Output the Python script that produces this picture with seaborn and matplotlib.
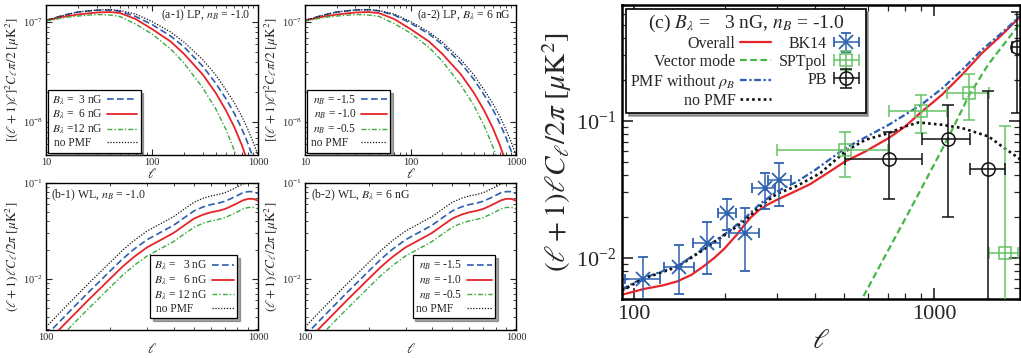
import matplotlib
matplotlib.use("Agg")
import matplotlib.pyplot as plt
import seaborn as sns
from matplotlib.ticker import NullFormatter, FuncFormatter, FixedLocator
from matplotlib.legend_handler import HandlerErrorbar
from matplotlib.container import ErrorbarContainer

# ---------------------------------------------------------------- data
# lensing-potential spectra [(l+1)l]^2 C_l pi/2
ell_lp = [10, 15, 20, 30, 40, 50, 70, 100, 150, 200, 300, 400, 500, 600, 700, 800, 900, 1000]
lp_nopmf = [1.035e-7, 1.175e-7, 1.259e-7, 1.318e-7, 1.330e-7, 1.303e-7, 1.202e-7, 1.012e-7, 7.94e-8,
            6.31e-8, 4.22e-8, 2.95e-8, 2.09e-8, 1.55e-8, 1.15e-8, 8.51e-9, 6.31e-9, 4.68e-9]
lp_B3 = [1.040e-7, 1.175e-7, 1.259e-7, 1.312e-7, 1.318e-7, 1.282e-7, 1.135e-7, 9.44e-8, 7.24e-8,
         5.66e-8, 3.63e-8, 2.44e-8, 1.70e-8, 1.21e-8, 8.65e-9, 6.17e-9, 4.37e-9, 3.16e-9]
lp_B6 = [1.035e-7, 1.135e-7, 1.189e-7, 1.245e-7, 1.259e-7, 1.230e-7, 1.072e-7, 8.51e-8, 6.38e-8,
         4.81e-8, 3.00e-8, 1.95e-8, 1.30e-8, 8.81e-9, 5.96e-9, 3.98e-9, 2.75e-9, 1.90e-9]
lp_B12 = [1.023e-7, 1.109e-7, 1.148e-7, 1.189e-7, 1.175e-7, 1.135e-7, 9.55e-8, 7.59e-8, 5.37e-8,
          3.89e-8, 2.21e-8, 1.35e-8, 8.36e-9, 5.13e-9, 3.16e-9, 2.00e-9, 1.26e-9, 7.9e-10]
lp_nBm15 = [1.040e-7, 1.175e-7, 1.259e-7, 1.321e-7, 1.327e-7, 1.294e-7, 1.175e-7, 9.77e-8, 7.59e-8,
            5.96e-8, 3.89e-8, 2.66e-8, 1.86e-8, 1.35e-8, 9.77e-9, 7.08e-9, 5.13e-9, 3.63e-9]
lp_nBm10 = lp_B6
lp_nBm05 = [1.023e-7, 1.109e-7, 1.148e-7, 1.189e-7, 1.175e-7, 1.140e-7, 9.66e-8, 7.76e-8, 5.56e-8,
            4.07e-8, 2.34e-8, 1.46e-8, 9.12e-9, 5.75e-9, 3.63e-9, 2.29e-9, 1.45e-9, 9.1e-10]

# lensed B-mode spectra (l+1)l C_l / 2pi
ell_wl = [100, 120, 140, 160, 180, 200, 230, 260, 300, 350, 400, 450, 500, 550, 600, 650, 700,
          750, 800, 850, 900, 950, 1000]
wl_nopmf = [3.16e-3, 4.79e-3, 6.76e-3, 9.12e-3, 1.175e-2, 1.479e-2, 1.995e-2, 2.512e-2, 3.162e-2,
            3.80e-2, 4.47e-2, 5.37e-2, 6.31e-2, 6.92e-2, 7.33e-2, 7.59e-2, 7.94e-2, 8.51e-2,
            9.12e-2, 9.77e-2, 1.012e-1, 1.023e-1, 9.89e-2]
wl_B3 = [2.57e-3, 3.89e-3, 5.50e-3, 7.41e-3, 9.55e-3, 1.202e-2, 1.622e-2, 2.042e-2, 2.570e-2,
         3.090e-2, 3.631e-2, 4.365e-2, 5.129e-2, 5.623e-2, 5.957e-2, 6.166e-2, 6.457e-2, 6.918e-2,
         7.413e-2, 7.943e-2, 8.128e-2, 8.128e-2, 7.762e-2]
wl_B6 = [2.14e-3, 3.24e-3, 4.57e-3, 6.17e-3, 7.94e-3, 1.000e-2, 1.349e-2, 1.698e-2, 2.138e-2,
         2.570e-2, 3.020e-2, 3.631e-2, 4.266e-2, 4.677e-2, 4.955e-2, 5.129e-2, 5.370e-2, 5.754e-2,
         6.166e-2, 6.607e-2, 6.839e-2, 6.839e-2, 6.531e-2]
wl_B12 = [1.74e-3, 2.63e-3, 3.72e-3, 5.01e-3, 6.46e-3, 8.13e-3, 1.096e-2, 1.380e-2, 1.738e-2,
          2.089e-2, 2.455e-2, 2.951e-2, 3.467e-2, 3.802e-2, 4.027e-2, 4.169e-2, 4.365e-2, 4.677e-2,
          5.012e-2, 5.370e-2, 5.559e-2, 5.559e-2, 5.370e-2]
wl_nBm15 = wl_B3
wl_nBm10 = wl_B6
wl_nBm05 = wl_B12

# panel (c): B_lambda = 3 nG, n_B = -1.0
ell_overall = [91, 107, 125, 139, 155, 170, 185, 200, 220, 232, 244, 260, 277, 299, 340, 386, 440,
               505, 589, 705, 800, 910, 1061, 1237, 1442, 1682, 1911, 1930]
cl_overall = [0.00537, 0.0059, 0.0063, 0.00672, 0.0075, 0.00865, 0.0100, 0.0117, 0.0148, 0.0172,
              0.0196, 0.0222, 0.0243, 0.0265, 0.0302, 0.0345, 0.0415, 0.0505, 0.0597, 0.0748,
              0.091, 0.117, 0.155, 0.217, 0.312, 0.425, 0.562, 0.58]
ell_vector = [560, 574, 865, 1111, 1309, 1517, 1682, 1911, 1930]
cl_vector = [0.0045, 0.005, 0.0265, 0.0748, 0.155, 0.26, 0.348, 0.50, 0.52]
ell_norho = [91, 107, 139, 170, 204, 232, 263, 299, 349, 401, 505, 705, 905, 1061, 1237, 1442,
             1682, 1930]
cl_norho = [0.0059, 0.0071, 0.0087, 0.0116, 0.0153, 0.0192, 0.0248, 0.0305, 0.0360, 0.0438,
            0.0632, 0.0935, 0.131, 0.172, 0.235, 0.33, 0.44, 0.58]
ell_nopmf = [91, 107, 139, 170, 204, 232, 263, 299, 349, 417, 505, 589, 705, 800, 887, 1061, 1237,
             1517, 1682, 1911, 1930]
cl_nopmf = [0.00577, 0.00703, 0.00857, 0.01143, 0.0151, 0.0184, 0.0238, 0.0293, 0.0335, 0.0415,
            0.0597, 0.0726, 0.0813, 0.091, 0.0972, 0.0935, 0.0885, 0.0768, 0.0649, 0.0534, 0.052]

# band powers
bk14_ell = [106.6, 140.5, 174.5, 203.7, 233.4, 271.8, 304.3]
bk14_val = [0.0070, 0.0086, 0.0128, 0.0212, 0.0151, 0.0323, 0.0371]
bk14_ell_lo = [93.3, 125.3, 156.8, 189.5, 207.0, 246.5, 278.0]
bk14_ell_hi = [121.4, 157.7, 193.6, 218.8, 261.0, 293.5, 333.0]
bk14_val_lo = [0.0040, 0.00546, 0.00764, 0.0160, 0.00794, 0.0227, 0.0240]
bk14_val_hi = [0.01005, 0.01245, 0.0181, 0.0268, 0.0231, 0.0415, 0.0491]

spt_ell = [502, 905, 1309, 1715]
spt_val = [0.0607, 0.117, 0.159, 0.0108]
spt_ell_lo = [299, 705, 1100, 1516]
spt_ell_hi = [700, 1101, 1516, 1900]
spt_val_lo = [0.0388, 0.0813, 0.1005, 0.001]
spt_val_hi = [0.0822, 0.155, 0.220, 0.092]

pb_ell = [708, 1111, 1510, 1888]
pb_val = [0.0528, 0.0735, 0.0447, 0.348]
pb_ell_lo = [505, 910, 1316, 1817]
pb_ell_hi = [910, 1316, 1720, 2100]
pb_val_lo = [0.027, 0.0198, 0.001, 0.114]
pb_val_hi = [0.0822, 0.131, 0.164, 0.618]

# ---------------------------------------------------------------- style
sns.set_style("ticks")
plt.rcParams.update({
    "font.family": ["Liberation Serif", "DejaVu Serif"],
    "mathtext.fontset": "stix",
    "axes.linewidth": 1.0,
    "axes.edgecolor": "black",
    "legend.fancybox": False,
    "legend.edgecolor": "black",
    "legend.framealpha": 1.0,
})

RED = "#e62429"
BLUE = "#2d5fae"
GREEN = "#3daa3d"
BLACK = "#111111"
LS_DASH = (0, (4, 2))
LS_DASHDOT = (0, (3.5, 1.5, 1, 1.5))
LS_DOT = (0, (1, 1.3))

W, H = 1021, 358


def rect(l, r, t, b):
    return [l / W, 1 - b / H, (r - l) / W, (b - t) / H]


def line(ax, x, y, color, ls, lw):
    sns.lineplot(x=x, y=y, ax=ax, color=color, linestyle=ls, linewidth=lw,
                 estimator=None, errorbar=None, sort=False, legend=False)
    return ax.lines[-1]


def style_small(ax, xlim, ylim, ylabel):
    ax.set_xscale("log")
    ax.set_yscale("log")
    ax.set_xlim(*xlim)
    ax.set_ylim(*ylim)
    ax.xaxis.set_major_formatter(FuncFormatter(lambda v, p: f"{v:g}"))
    ax.xaxis.set_minor_formatter(NullFormatter())
    ax.yaxis.set_minor_formatter(NullFormatter())
    ax.tick_params(which="both", direction="in", top=True, right=True, labelsize=7.5, pad=2)
    ax.tick_params(which="major", length=4, width=0.8)
    ax.tick_params(which="minor", length=2, width=0.6)
    ax.set_xlabel(r"$\ell$", fontsize=10, labelpad=0)
    ax.set_ylabel(ylabel, fontsize=9.5, labelpad=1)
    for s in ax.spines.values():
        s.set_linewidth(1.0)


def small_legend(ax, handles, labels, hlen, **kw):
    leg = ax.legend(handles, labels, markerfirst=False, shadow=True, fontsize=8.3,
                    handlelength=hlen, labelspacing=0.1, borderpad=0.3,
                    handletextpad=0.4, frameon=True, **kw)
    leg.get_frame().set_linewidth(0.9)
    return leg


fig = plt.figure(figsize=(W / 100, H / 100), dpi=100)

ylab_lp = r"$[(\ell+1)\ell]^2C_\ell\pi/2\ [\mu{\rm K}^2]$"
ylab_wl = r"$(\ell+1)\ell C_\ell/2\pi\ [\mu{\rm K}^2]$"

# (a-1)
ax = fig.add_axes(rect(46, 258, 5, 155))
style_small(ax, (10, 1000), (4.68e-9, 1.48e-7), ylab_lp)
h = [line(ax, ell_lp, lp_B3, BLUE, LS_DASH, 1.2),
     line(ax, ell_lp, lp_B6, RED, "-", 1.3),
     line(ax, ell_lp, lp_B12, GREEN, LS_DASHDOT, 1.0),
     line(ax, ell_lp, lp_nopmf, BLACK, LS_DOT, 0.9)]
small_legend(ax, h, [r"$B_\lambda$ =  3 nG", r"$B_\lambda$ =  6 nG", r"$B_\lambda$ =12 nG", "no PMF    "],
             2.6, loc="lower left", borderaxespad=0.2)
ax.text(0.965, 0.93, r"(a-1) LP, $n_B$ = -1.0", transform=ax.transAxes, ha="right", va="center", fontsize=8.5)

# (a-2)
ax = fig.add_axes(rect(305, 516, 5, 155))
style_small(ax, (10, 1000), (4.68e-9, 1.48e-7), ylab_lp)
h = [line(ax, ell_lp, lp_nBm15, BLUE, LS_DASH, 1.2),
     line(ax, ell_lp, lp_nBm10, RED, "-", 1.3),
     line(ax, ell_lp, lp_nBm05, GREEN, LS_DASHDOT, 1.0),
     line(ax, ell_lp, lp_nopmf, BLACK, LS_DOT, 0.9)]
small_legend(ax, h, [r"$n_B$ = -1.5", r"$n_B$ = -1.0", r"$n_B$ = -0.5", "no PMF   "],
             2.2, loc="lower left", borderaxespad=0.2)
ax.text(0.975, 0.93, r"(a-2) LP, $B_\lambda$ = 6 nG", transform=ax.transAxes, ha="right", va="center", fontsize=8.5)

# (b-1)
ax = fig.add_axes(rect(46, 258, 183, 330))
style_small(ax, (100, 1000), (2.94e-3, 0.1), ylab_wl)
h = [line(ax, ell_wl, wl_B3, BLUE, LS_DASH, 1.2),
     line(ax, ell_wl, wl_B6, RED, "-", 1.3),
     line(ax, ell_wl, wl_B12, GREEN, LS_DASHDOT, 1.0),
     line(ax, ell_wl, wl_nopmf, BLACK, LS_DOT, 0.9)]
small_legend(ax, h, [r"$B_\lambda$ =   3 nG", r"$B_\lambda$ =   6 nG", r"$B_\lambda$ = 12 nG", "no PMF     "],
             1.9, loc="lower right", bbox_to_anchor=(0.93, 0.04))
ax.text(0.025, 0.915, r"(b-1) WL, $n_B$ = -1.0", transform=ax.transAxes, ha="left", va="center", fontsize=8.5)

# (b-2)
ax = fig.add_axes(rect(305, 516, 183, 330))
style_small(ax, (100, 1000), (2.94e-3, 0.1), ylab_wl)
h = [line(ax, ell_wl, wl_nBm15, BLUE, LS_DASH, 1.2),
     line(ax, ell_wl, wl_nBm10, RED, "-", 1.3),
     line(ax, ell_wl, wl_nBm05, GREEN, LS_DASHDOT, 1.0),
     line(ax, ell_wl, wl_nopmf, BLACK, LS_DOT, 0.9)]
small_legend(ax, h, [r"$n_B$ = -1.5", r"$n_B$ = -1.0", r"$n_B$ = -0.5", "no PMF   "],
             2.2, loc="lower right", bbox_to_anchor=(0.93, 0.04))
ax.text(0.03, 0.915, r"(b-2) WL, $B_\lambda$ = 6 nG", transform=ax.transAxes, ha="left", va="center", fontsize=8.5)

# (c)
axc = fig.add_axes(rect(622, 1020, 5, 299))
axc.set_xscale("log")
axc.set_yscale("log")
axc.set_xlim(91, 1930)
axc.set_ylim(0.005, 0.70)

C_RED = "#e5252a"
C_GREEN = "#44b744"
C_BLUE = "#2a5db0"
hc = [line(axc, ell_overall, cl_overall, C_RED, "-", 1.6),
      line(axc, ell_vector, cl_vector, C_GREEN, (0, (3, 1.6)), 1.6),
      line(axc, ell_norho, cl_norho, C_BLUE, (0, (3, 1.2, 1, 1.2)), 1.6),
      line(axc, ell_nopmf, cl_nopmf, BLACK, (0, (1, 1.2)), 1.9)]


def band(ax, x, y, xlo, xhi, ylo, yhi, color, marker, ms, capsize, mew):
    xerr = [[a - b for a, b in zip(x, xlo)], [b - a for a, b in zip(x, xhi)]]
    yerr = [[a - b for a, b in zip(y, ylo)], [b - a for a, b in zip(y, yhi)]]
    return ax.errorbar(x, y, xerr=xerr, yerr=yerr, fmt=marker, color=color, ms=ms, mfc="none",
                       mec=color, mew=mew, elinewidth=1.1, capsize=capsize, capthick=1.1, zorder=4)


e_bk = band(axc, bk14_ell, bk14_val, bk14_ell_lo, bk14_ell_hi, bk14_val_lo, bk14_val_hi,
            "#2f62b0", "x", 9.5, 3.6, 1.3)
sns.scatterplot(x=bk14_ell, y=bk14_val, ax=axc, color="#2f62b0", s=12, linewidth=0, zorder=5, legend=False)
e_spt = band(axc, spt_ell, spt_val, spt_ell_lo, spt_ell_hi, spt_val_lo, spt_val_hi,
             "#66c266", "s", 8.5, 4.0, 1.1)
e_pb = band(axc, pb_ell, pb_val, pb_ell_lo, pb_ell_hi, pb_val_lo, pb_val_hi,
            "#111111", "o", 9.5, 4.3, 1.1)

axc.xaxis.set_major_locator(FixedLocator([100, 1000]))
axc.xaxis.set_major_formatter(FuncFormatter(lambda v, p: f"{v:g}"))
axc.xaxis.set_minor_formatter(NullFormatter())
axc.yaxis.set_minor_formatter(NullFormatter())
axc.tick_params(which="both", direction="in", top=True, right=True, labelsize=16, pad=4)
axc.tick_params(which="major", length=8, width=1.2)
axc.tick_params(which="minor", length=4, width=0.9)
for s in axc.spines.values():
    s.set_linewidth(1.8)
axc.set_xlabel(r"$\ell$", fontsize=20, labelpad=4)
axc.set_ylabel(r"$(\ell+1)\ell C_\ell/2\pi\ [\mu{\rm K}^2]$", fontsize=21, labelpad=2)

leg = axc.legend(hc + [e_bk, e_spt, e_pb],
                 ["Overall", "Vector mode", r"PMF without $\rho_B$", "no PMF", "BK14", "SPTpol", "PB"],
                 ncols=2, loc="upper left", bbox_to_anchor=(0.0, 1.0), markerfirst=False,
                 title=r"(c) $B_\lambda$ =   3 nG, $n_B$ = -1.0", title_fontsize=14, fontsize=11.5,
                 shadow=True, handlelength=1.9, labelspacing=0.12, columnspacing=0.5,
                 handletextpad=0.3, borderpad=0.25, borderaxespad=0.25, frameon=True,
                 handler_map={ErrorbarContainer: HandlerErrorbar(xerr_size=0.8, yerr_size=0.6)})
leg.get_frame().set_linewidth(1.2)
leg.set_zorder(10)

fig.savefig("out.png", dpi=100)
